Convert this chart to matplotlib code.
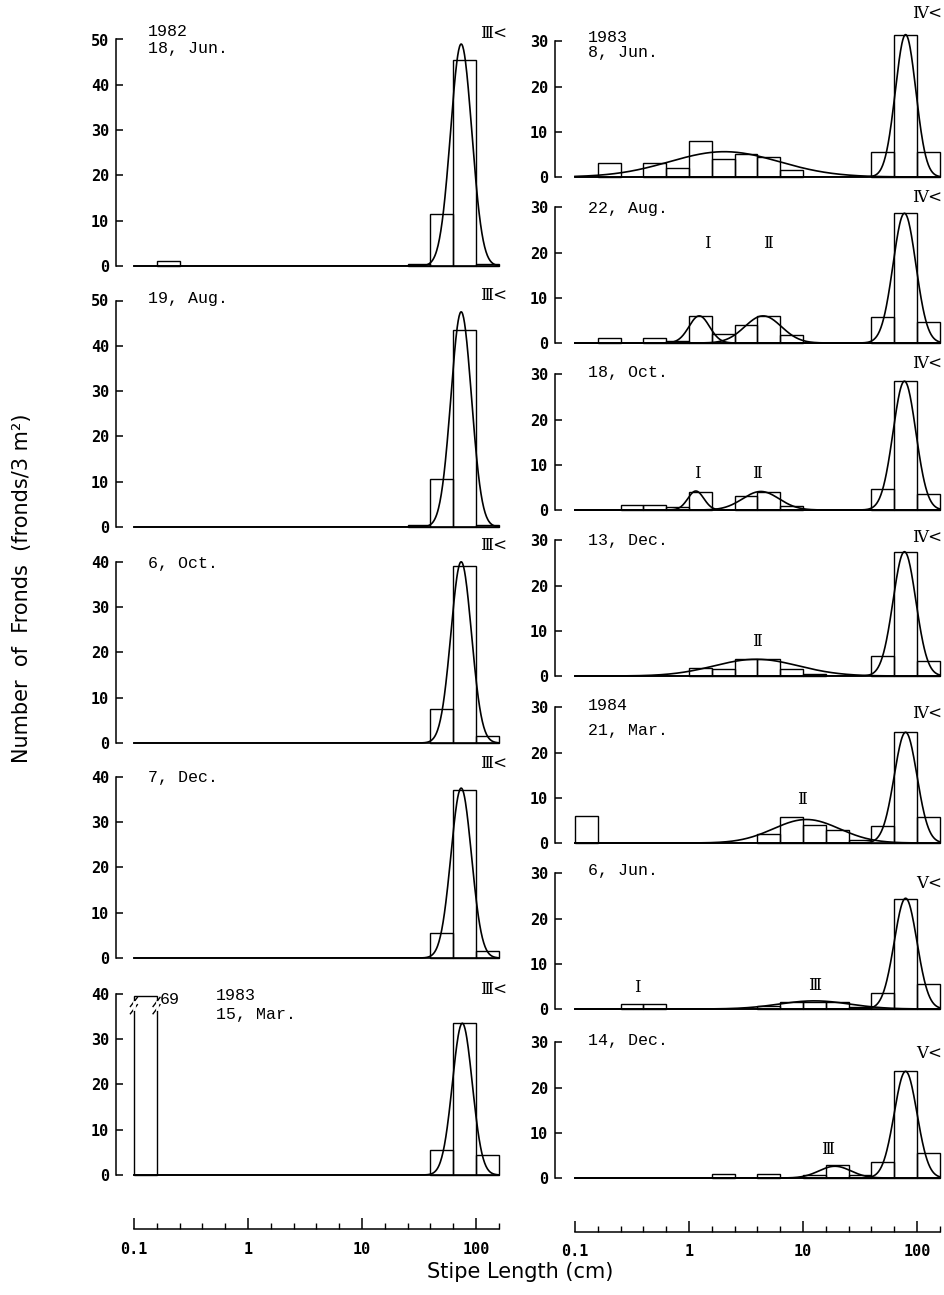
import numpy as np
import matplotlib
matplotlib.use("Agg")
import matplotlib.pyplot as plt

# ---------------- data ----------------
BIN_EDGES = [0.1, 0.158, 0.251, 0.398, 0.631, 1.0, 1.58, 2.51, 3.98, 6.31,
             10.0, 15.8, 25.1, 39.8, 63.1, 100.0, 158.5]
X_TICKS = [0.1, 1, 10, 100]
X_TICK_LABELS = ["0.1", "1", "10", "100"]

# counts per stipe-length class (fronds / 3 m2)
C_1982_06_18 = [0, 1, 0, 0, 0, 0, 0, 0, 0, 0, 0, 0, 0.5, 11.5, 45.5, 0.5]
C_1982_08_19 = [0, 0, 0, 0, 0, 0, 0, 0, 0, 0, 0, 0, 0.5, 10.5, 43.5, 0.5]
C_1982_10_06 = [0, 0, 0, 0, 0, 0, 0, 0, 0, 0, 0, 0, 0, 7.5, 39, 1.5]
C_1982_12_07 = [0, 0, 0, 0, 0, 0, 0, 0, 0, 0, 0, 0, 0, 5.5, 37, 1.5]
C_1983_03_15 = [69, 0, 0, 0, 0, 0, 0, 0, 0, 0, 0, 0, 0, 5.5, 33.5, 4.5]
C_1983_06_08 = [0, 3, 0, 3, 2, 8, 4, 5, 4.5, 1.5, 0, 0, 0, 5.5, 31.5, 5.5]
C_1983_08_22 = [0, 1, 0, 1, 0.5, 6, 2, 4, 6, 1.7, 0, 0, 0, 5.7, 28.7, 4.6]
C_1983_10_18 = [0, 0, 1, 1, 0.7, 4, 0, 3, 4, 0.9, 0, 0, 0, 4.7, 28.5, 3.5]
C_1983_12_13 = [0, 0, 0, 0, 0, 1.8, 1.5, 3.7, 3.7, 1.6, 0.5, 0, 0, 4.4, 27.5, 3.3]
C_1984_03_21 = [6, 0, 0, 0, 0, 0, 0, 0, 2, 5.8, 3.9, 2.8, 0.6, 3.8, 24.5, 5.7]
C_1984_06_06 = [0, 0, 1, 1, 0, 0, 0, 0, 0.7, 1.6, 1.6, 1.5, 0.5, 3.6, 24.4, 5.5]
C_1984_12_14 = [0, 0, 0, 0, 0, 0, 0.9, 0, 0.9, 0, 0.7, 2.8, 0.7, 3.6, 23.6, 5.6]

# fitted normal components: (peak height, mean log10(cm), sd log10(cm))
G_1982_06_18 = [(49, 1.87, 0.093)]
G_1982_08_19 = [(47.5, 1.87, 0.09)]
G_1982_10_06 = [(40, 1.87, 0.09)]
G_1982_12_07 = [(37.5, 1.87, 0.09)]
G_1983_03_15 = [(33.5, 1.88, 0.087)]
G_1983_06_08 = [(5.6, 0.31, 0.48), (31.5, 1.9, 0.09)]
G_1983_08_22 = [(6, 0.09, 0.09), (6, 0.65, 0.16), (28.7, 1.89, 0.1)]
G_1983_10_18 = [(4.2, 0.06, 0.07), (4.1, 0.63, 0.16), (28.5, 1.89, 0.1)]
G_1983_12_13 = [(3.7, 0.59, 0.37), (27.5, 1.89, 0.1)]
G_1984_03_21 = [(5.2, 1.03, 0.29), (24.5, 1.9, 0.1)]
G_1984_06_06 = [(1.8, 1.1, 0.31), (24.5, 1.9, 0.1)]
G_1984_12_14 = [(2.6, 1.28, 0.14), (23.6, 1.9, 0.1)]

# ---------------- layout ----------------
W, H = 945, 1295
fig = plt.figure(figsize=(W / 100, H / 100), dpi=100)

COL_X0 = [134, 575]        # pixel of x = 0.1
DECADE_PX = 114.0
SPAN_PX = DECADE_PX * np.log10(158.5 / 0.1)
SCALE = [4.53, 4.52]       # pixel per count
SPINE_OFF = [18, 20]

MONO = "Liberation Mono"
ROMAN = ["DejaVu Serif", "DejaVu Sans"]


def px(x, y):
    return x / W, 1 - y / H


# panel spec: counts, curves, col, zero_px, top tick, bottom-axis?
panels = [
    (C_1982_06_18, G_1982_06_18, 0, 266, 50, False),
    (C_1982_08_19, G_1982_08_19, 0, 527, 50, False),
    (C_1982_10_06, G_1982_10_06, 0, 743, 40, False),
    (C_1982_12_07, G_1982_12_07, 0, 958, 40, False),
    (C_1983_03_15, G_1983_03_15, 0, 1175, 40, True),
    (C_1983_06_08, G_1983_06_08, 1, 177, 30, False),
    (C_1983_08_22, G_1983_08_22, 1, 343, 30, False),
    (C_1983_10_18, G_1983_10_18, 1, 510, 30, False),
    (C_1983_12_13, G_1983_12_13, 1, 676, 30, False),
    (C_1984_03_21, G_1984_03_21, 1, 843, 30, False),
    (C_1984_06_06, G_1984_06_06, 1, 1009, 30, False),
    (C_1984_12_14, G_1984_12_14, 1, 1178, 30, True),
]

BREAK_CAP = 39.5
xs = np.logspace(-1, np.log10(158.5), 800)
edges = np.array(BIN_EDGES)

axes = []
for counts, comps, col, zpx, top, bottom in panels:
    ytop = top + 2.5
    hpx = ytop * SCALE[col]
    ax = fig.add_axes([COL_X0[col] / W, 1 - zpx / H, SPAN_PX / W, hpx / H])
    ax.set_xscale("log")
    ax.set_xlim(0.1, 158.5)
    ax.set_ylim(0, ytop)
    ax.patch.set_alpha(0)
    for s in ("top", "right"):
        ax.spines[s].set_visible(False)
    ax.spines["left"].set_position(("outward", SPINE_OFF[col] * 0.72))
    ax.spines["left"].set_bounds(0, top)
    ax.spines["left"].set_linewidth(1.1)
    ax.set_yticks(np.arange(0, top + 1, 10))
    ax.tick_params(axis="y", direction="in", length=5, width=1.1, pad=5,
                   labelsize=11)
    for lab in ax.get_yticklabels():
        lab.set_fontfamily("DejaVu Sans Mono")
        lab.set_fontweight("bold")

    # baseline
    ax.plot([0.1, 158.5], [0, 0], color="black", lw=1.2, clip_on=False)
    # histogram bars
    hts = np.array(counts, dtype=float)
    keep = hts > 0
    shown = np.minimum(hts, BREAK_CAP if top == 40 else hts.max())
    ax.bar(edges[:-1][keep], shown[keep], width=np.diff(edges)[keep],
           align="edge", fill=False, edgecolor="black", linewidth=1.0,
           clip_on=False)
    # fitted curves
    for pk, mu, sd in comps:
        ax.plot(xs, pk * np.exp(-0.5 * ((np.log10(xs) - mu) / sd) ** 2),
                color="black", lw=1.2, clip_on=False)

    if bottom:
        sp = ax.spines["bottom"]
        sp.set_position(("outward", 54 * 0.72))
        sp.set_linewidth(1.1)
        ax.set_xticks(X_TICKS)
        ax.set_xticklabels(X_TICK_LABELS)
        ax.set_xticks(edges[[1, 2, 3, 4, 6, 7, 8, 9, 11, 12, 13, 14, 16]],
                      minor=True)
        ax.xaxis.set_minor_formatter(plt.NullFormatter())
        ax.tick_params(axis="x", which="major", direction="in", length=8,
                       width=1.1, pad=9, labelsize=11)
        ax.tick_params(axis="x", which="minor", direction="in", length=4,
                       width=1.0)
        for lab in ax.get_xticklabels():
            lab.set_fontfamily("DejaVu Sans Mono")
            lab.set_fontweight("bold")
    else:
        ax.spines["bottom"].set_visible(False)
        ax.set_xticks([])
        ax.set_xticks([], minor=True)
    axes.append(ax)

# broken bar in 15 Mar 1983 panel
axb = axes[4]
for xe in (BIN_EDGES[0], BIN_EDGES[1]):
    for dy in (0.0, 1.6):
        axb.plot([xe * 0.93, xe * 1.07], [35.6 + dy, 37.6 + dy],
                 color="black", lw=1.0, clip_on=False)
    axb.plot([xe, xe], [36.6, 38.2], color="white", lw=2.0, clip_on=False)
fig.text(*px(160, 1000), "69", fontsize=12, family=MONO, va="center")

# ---------------- text ----------------
date_texts = [
    (148, 32, "1982"), (148, 49, "18, Jun."),
    (148, 298, "19, Aug."),
    (148, 563, "6, Oct."),
    (148, 778, "7, Dec."),
    (216, 995, "1983"), (216, 1014, "15, Mar."),
    (588, 38, "1983"), (588, 53, "8, Jun."),
    (588, 208, "22, Aug."),
    (588, 372, "18, Oct."),
    (588, 540, "13, Dec."),
    (588, 706, "1984"), (588, 731, "21, Mar."),
    (588, 870, "6, Jun."),
    (588, 1040, "14, Dec."),
]
for x, y, s in date_texts:
    fig.text(*px(x, y), s, fontsize=12, family=MONO, va="center", ha="left")

cohort_right = [
    (507, 34, "Ⅲ<"), (507, 296, "Ⅲ<"), (507, 546, "Ⅲ<"), (507, 763, "Ⅲ<"),
    (507, 990, "Ⅲ<"),
    (942, 13, "Ⅳ<"), (942, 198, "Ⅳ<"), (942, 364, "Ⅳ<"), (942, 537, "Ⅳ<"),
    (942, 713, "Ⅳ<"), (942, 884, "Ⅴ<"), (942, 1054, "Ⅴ<"),
]
for x, y, s in cohort_right:
    fig.text(*px(x, y), s, fontsize=12, family=ROMAN, va="center", ha="right")

cohort_mid = [
    (707, 244, "Ⅰ"), (768, 244, "Ⅱ"),
    (697, 473, "Ⅰ"), (757, 473, "Ⅱ"),
    (757, 641, "Ⅱ"),
    (802, 800, "Ⅱ"),
    (637, 987, "Ⅰ"), (815, 985, "Ⅲ"),
    (828, 1150, "Ⅲ"),
]
for x, y, s in cohort_mid:
    fig.text(*px(x, y), s, fontsize=12, family=ROMAN, va="center", ha="center")

fig.text(*px(22, 588), "Number  of  Fronds  (fronds/3 m²)", rotation=90,
         fontsize=15, family="DejaVu Sans", va="center", ha="center")
fig.text(*px(520, 1272), "Stipe Length (cm)", fontsize=15,
         family="DejaVu Sans", va="center", ha="center")

fig.savefig("out.png", dpi=100)
